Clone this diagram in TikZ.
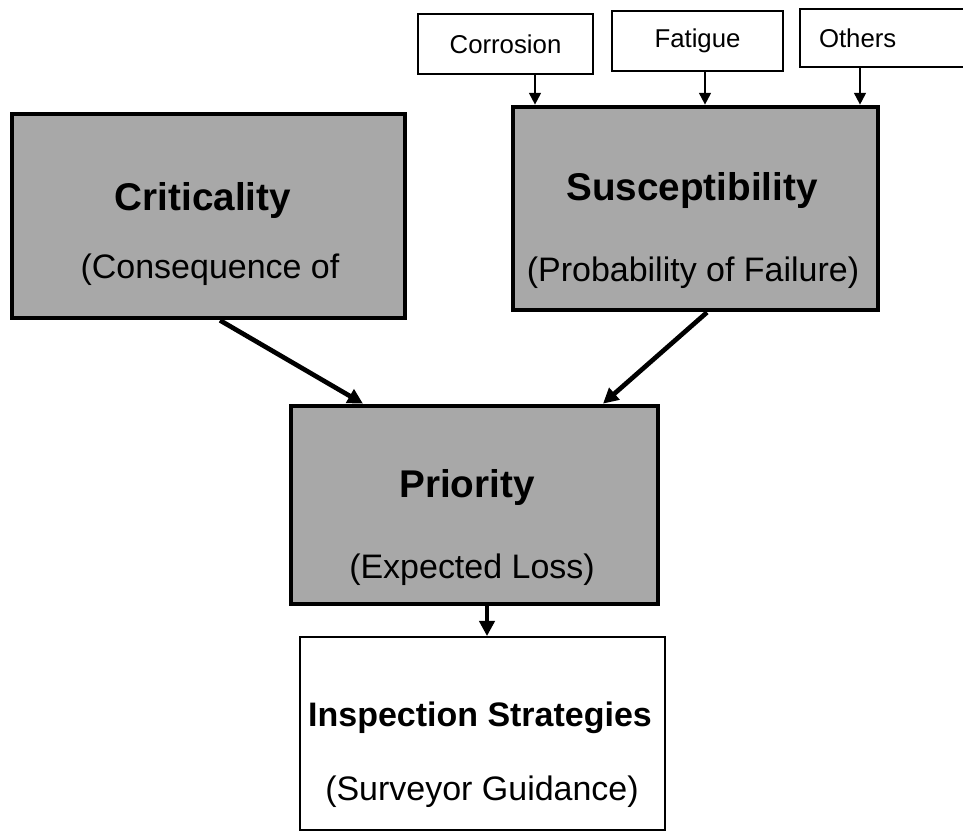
\documentclass[tikz,border=0pt]{standalone}
\usepackage{fontspec}
\setmainfont{Liberation Sans}
\usetikzlibrary{arrows.meta,calc}
\definecolor{halftone}{gray}{0.66}
\begin{document}
\begin{tikzpicture}[x=0.03cm,y=-0.03cm,
  cause/.style={draw=black,line width=1.2pt,minimum height=1.8cm,font=\fontsize{22}{26}\selectfont},
  heavybox/.style={draw=black,line width=4pt,fill=halftone},
  plainbox/.style={draw=black,line width=1.6pt,fill=white},
  title/.style={font=\bfseries\fontsize{33}{40}\selectfont},
  subtitle/.style={font=\fontsize{29}{35}\selectfont},
  bigarrow/.style={line width=4pt,-{Triangle[length=13pt,width=13pt]}},
  smallarrow/.style={line width=1.6pt,-{Triangle[length=10pt,width=10pt]}}]
\useasboundingbox (0,0) rectangle (963,832);
% failure modes
\node[cause,minimum width=5.25cm] (Corr) at (505.5,44) {Corrosion};
\node[cause,minimum width=5.13cm] (Fati) at (697.5,41) {Fatigue};
\node[cause,minimum height=1.74cm,text width=3.9cm,inner xsep=0.57cm,align=left] (Othr) at (884,38) {Others};
% main boxes
\node[heavybox,minimum width=11.79cm,minimum height=6.12cm] (Crit) at (208.5,216) {};
\node[heavybox,minimum width=10.95cm,minimum height=6.09cm] (Susc) at (695.5,208.5) {};
\node[heavybox,minimum width=11.01cm,minimum height=5.94cm] (Prio) at (474.5,505) {};
\node[plainbox,minimum width=10.95cm,minimum height=5.79cm] (Insp) at (482.5,733.5) {};
% texts
\node[title] (CritTit) at (203,200) {Criticality};
\node[subtitle] (CritSub) at (210,270) {(Consequence of};
\node[title] (SuscTit) at (692,190) {Susceptibility};
\node[subtitle] (SuscSub) at (693,273) {(Probability of Failure)};
\node[title] (PrioTit) at (467,487) {Priority};
\node[subtitle] (PrioSub) at (472,570) {(Expected Loss)};
\node[title,font=\bfseries\fontsize{29}{35}\selectfont] (InspTit) at (480,718) {Inspection Strategies};
\node[subtitle] (InspSub) at (482,792) {(Surveyor Guidance)};
% connectors
\draw[smallarrow] ($(Corr.south)+(29.5,0)$) -- ($(Susc.north)+(-160.5,0)$);
\draw[smallarrow] ($(Fati.south)+(7.5,0)$) -- ($(Susc.north)+(9.5,0)$);
\draw[smallarrow] ($(Othr.south)+(-24,0)$) -- ($(Susc.north)+(164.5,0)$);
\draw[bigarrow] ($(Crit.south)+(11.5,0)$) -- ($(Prio.north)+(-111.5,0)$);
\draw[bigarrow] ($(Susc.south)+(11.5,0)$) -- ($(Prio.north)+(128.5,0)$);
\draw[bigarrow] ($(Prio.south)+(12.5,0)$) -- ($(Insp.north)+(4.5,0)$);
\end{tikzpicture}
\end{document}
